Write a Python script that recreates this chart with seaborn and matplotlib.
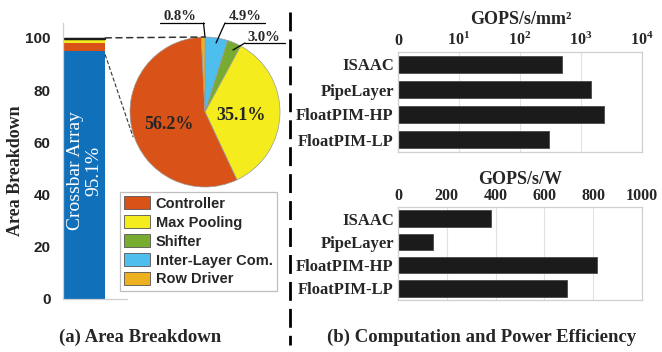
import matplotlib
matplotlib.use("Agg")
import matplotlib.pyplot as plt
from matplotlib.patches import Patch, ConnectionPatch
from matplotlib.lines import Line2D
from matplotlib.ticker import FixedLocator, FixedFormatter, NullLocator
import pandas as pd
import seaborn as sns

sns.set_theme(style="white")
plt.rcParams["font.family"] = ["Liberation Serif", "DejaVu Serif"]
plt.rcParams["font.weight"] = "bold"
plt.rcParams["mathtext.fontset"] = "custom"
plt.rcParams["mathtext.rm"] = "Liberation Serif:bold"
plt.rcParams["mathtext.bf"] = "Liberation Serif:bold"
plt.rcParams["mathtext.default"] = "bf"

# ---- area breakdown data ----
crossbar_share = 95.1
periph_names = ["Controller", "Max Pooling", "Shifter", "Inter-Layer Com.", "Row Driver"]
periph_pct = [56.2, 35.1, 3.0, 4.9, 0.8]
periph_colors = ["#D95319", "#F4EC1C", "#77AC30", "#4DBEEE", "#EDB120"]
crossbar_color = "#1170BA"
area_ticks = [0, 20, 40, 60, 80, 100]

# ---- efficiency data ----
designs = ["ISAAC", "PipeLayer", "FloatPIM-HP", "FloatPIM-LP"]
area_eff = [479, 1485, 2360, 300]      # GOPS/s/mm^2
power_eff = [380, 142, 815, 692]       # GOPS/s/W
area_eff_ticks = [1, 10, 100, 1000, 10000]
area_eff_labels = ["0", "$10^{1}$", "$10^{2}$", "$10^{3}$", "$10^{4}$"]
power_eff_ticks = [0, 200, 400, 600, 800, 1000]

W, H = 662, 352
fig = plt.figure(figsize=(W / 100, H / 100), dpi=100)


def box(x0, y0, x1, y1):
    return [x0 / W, 1 - y1 / H, (x1 - x0) / W, (y1 - y0) / H]


# ---------------- stacked area bar ----------------
ax_bar = fig.add_axes(box(63, 23, 127, 299))
bar_left, bar_w = 0.02, 0.64
ax_bar.bar([bar_left], [crossbar_share], width=bar_w, align="edge",
           color=crossbar_color, linewidth=0)
periph_abs = [(100 - crossbar_share) * p / 100 for p in periph_pct]
bottom = crossbar_share
for name, val, col in zip(periph_names, periph_abs, periph_colors):
    tiny = val < 0.5
    ax_bar.bar([bar_left], [val], width=bar_w, bottom=bottom, align="edge",
               color=col, edgecolor="#1a1a1a" if tiny else col,
               linewidth=0.9 if tiny else 0)
    bottom += val
ax_bar.set_xlim(0, 1)
ax_bar.set_ylim(0, 105.7)
ax_bar.set_xticks([])
ax_bar.yaxis.set_major_locator(FixedLocator(area_ticks))
ax_bar.tick_params(axis="y", length=0, pad=9, labelsize=11)
for lab in ax_bar.get_yticklabels():
    lab.set_fontfamily("Liberation Sans")
    lab.set_fontweight("bold")
    lab.set_color("#222222")
for side in ["top", "right"]:
    ax_bar.spines[side].set_visible(False)
for side in ["left", "bottom"]:
    ax_bar.spines[side].set_color("#cfcfcf")
    ax_bar.spines[side].set_linewidth(0.9)
ax_bar.text(bar_left + bar_w / 2, 49, f"Crossbar Array\n{crossbar_share}%",
            rotation=90, ha="center", va="center", color="white",
            fontsize=14, fontweight="normal", linespacing=1.15)

fig.text(16 / W, 1 - 171 / H, "Area Breakdown", rotation=90,
         ha="center", va="center", fontsize=13, fontweight="bold")

# ---------------- peripheral pie ----------------
ax_pie = fig.add_axes(box(130, 37, 280, 187))
pie_order = [3, 2, 1, 0, 4]   # Inter-Layer, Shifter, Max Pooling, Controller, Row Driver
ax_pie.pie([periph_pct[i] for i in pie_order],
           colors=[periph_colors[i] for i in pie_order],
           startangle=90, counterclock=False, radius=1,
           wedgeprops=dict(edgecolor="#9a9a9a", linewidth=0.5))
ax_pie.set_xlim(-1, 1)
ax_pie.set_ylim(-1, 1)
ax_pie.axis("off")

ax_pie.text(-0.48, -0.17, f"{periph_pct[0]}%", ha="center", va="center",
            fontsize=13, fontweight="bold")
ax_pie.text(0.48, -0.04, f"{periph_pct[1]}%", ha="center", va="center",
            fontsize=13, fontweight="bold")

# small slices: label over an underline with a leader to the wedge
callouts = [
    (periph_pct[4], (-0.33, 1.23), (-0.6, -0.02), 1.187, (-0.02, 1.187), (0.0, 1.0)),
    (periph_pct[3], (0.53, 1.23), (0.267, 0.8), 1.187, (0.267, 1.187), (0.147, 0.92)),
    (periph_pct[2], (0.79, 0.95), (0.533, 1.06), 0.92, (0.533, 0.92), (0.373, 0.827)),
]
for val, txy, (ux0, ux1), uy, lstart, lend in callouts:
    ax_pie.text(txy[0], txy[1], f"{val}%", ha="center", va="baseline",
                fontsize=10.5, fontweight="bold", clip_on=False)
    ax_pie.add_line(Line2D([ux0, ux1], [uy, uy], color="black", lw=0.9, clip_on=False))
    ax_pie.add_line(Line2D([lstart[0], lend[0]], [lstart[1], lend[1]],
                           color="black", lw=0.9, clip_on=False))

# zoom connectors from bar to pie
fig.add_artist(ConnectionPatch(xyA=(bar_left + bar_w, 100), coordsA=ax_bar.transData,
                               xyB=(0, 1), coordsB=ax_pie.transData,
                               color="#333333", lw=1.1, ls=(0, (4, 3))))
fig.add_artist(ConnectionPatch(xyA=(bar_left + bar_w, 93.5), coordsA=ax_bar.transData,
                               xyB=(-0.96, -0.33), coordsB=ax_pie.transData,
                               color="#333333", lw=0.8, ls=(0, (3, 2.5))))

handles = [Patch(facecolor=c, edgecolor="#555555", linewidth=0.6) for c in periph_colors]
leg = fig.legend(handles, periph_names, loc="upper left",
                 bbox_to_anchor=(120 / W, 1 - 192 / H), borderaxespad=0,
                 prop=dict(family="Liberation Sans", weight="bold", size=10.5),
                 frameon=True, fancybox=False, edgecolor="#b0b0b0",
                 borderpad=0.3, handlelength=1.75, handleheight=1.0,
                 handletextpad=0.4, labelspacing=0.3)
leg.get_frame().set_linewidth(0.9)

fig.text(140 / W, 1 - 337 / H, "(a) Area Breakdown", ha="center", va="center",
         fontsize=13.5, fontweight="bold")

# divider
fig.add_artist(Line2D([290 / W, 290 / W], [1 - 12 / H, 1 - 345 / H],
                      color="black", lw=2, dashes=(6.8, 2.9)))


# ---------------- efficiency panels ----------------
def efficiency_panel(ax, values):
    df = pd.DataFrame({"design": designs, "value": values})
    sns.barplot(data=df, x="value", y="design", orient="h", ax=ax,
                color="#1b1b1b", saturation=1, width=0.7,
                edgecolor="#4a4a4a", linewidth=0.6)
    ax.set_xlabel("")
    ax.set_ylabel("")
    ax.xaxis.tick_top()
    ax.tick_params(axis="x", top=True, bottom=False, labeltop=True,
                   labelbottom=False, length=0, pad=2, labelsize=11.5)
    ax.tick_params(axis="y", length=0, pad=3, labelsize=12)
    ax.grid(axis="x", color="#e2e2e2", lw=0.8)
    ax.grid(axis="y", visible=False)
    ax.set_axisbelow(True)
    for s in ax.spines.values():
        s.set_color("#cfcfcf")
        s.set_linewidth(0.9)


ax_area = fig.add_axes(box(398, 52, 642, 152))
efficiency_panel(ax_area, area_eff)
ax_area.set_xscale("log")
ax_area.set_xlim(area_eff_ticks[0], area_eff_ticks[-1])
ax_area.xaxis.set_major_locator(FixedLocator(area_eff_ticks))
ax_area.xaxis.set_major_formatter(FixedFormatter(area_eff_labels))
ax_area.xaxis.set_minor_locator(NullLocator())
fig.text(521 / W, 1 - 20 / H, "GOPS/s/mm²", ha="center", va="center",
         fontsize=13, fontweight="bold")

ax_pow = fig.add_axes(box(398, 207, 642, 300))
efficiency_panel(ax_pow, power_eff)
ax_pow.set_xlim(power_eff_ticks[0], power_eff_ticks[-1])
ax_pow.xaxis.set_major_locator(FixedLocator(power_eff_ticks))
fig.text(520 / W, 1 - 180 / H, "GOPS/s/W", ha="center", va="center",
         fontsize=13, fontweight="bold")

fig.text(482 / W, 1 - 337 / H, "(b) Computation and Power Efficiency",
         ha="center", va="center", fontsize=13.5, fontweight="bold")

fig.savefig("out.png", dpi=100)
